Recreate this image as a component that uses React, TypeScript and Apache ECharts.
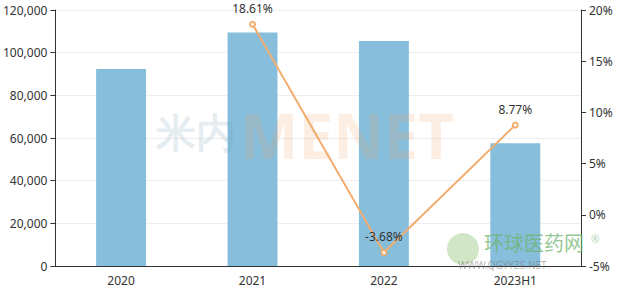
import React, { useEffect, useRef } from "react";
import * as echarts from "echarts";

const categories = ["2020", "2021", "2022", "2023H1"];
const salesValues = [92300, 109500, 105470, 57500];
const growthValues: (number | null)[] = [null, 18.61, -3.68, 8.77];

export default function App() {
  const ref = useRef<HTMLDivElement>(null);
  useEffect(() => {
    document.body.style.margin = "0";
    const chart = echarts.init(ref.current!, undefined, { renderer: "svg" });
    const font = "'Noto Sans', 'Open Sans', sans-serif";
    chart.setOption({
      animation: false,
      textStyle: { fontFamily: font },
      grid: { left: 55, right: 37, top: 10, bottom: 23 },
      graphic: [
        {
          type: "text",
          left: 156,
          top: 111,
          z: 100,
          style: { text: "米内", fontSize: 40, fontWeight: "bold", fill: "rgba(120,160,185,0.2)", fontFamily: font },
        },
        {
          type: "text",
          left: 240,
          top: 104,
          z: 100,
          style: { text: "MENET", fontSize: 62, fontWeight: "bold", fill: "rgba(245,160,100,0.18)", fontFamily: font },
        },
        {
          type: "circle",
          shape: { cx: 463, cy: 249, r: 16 },
          z: 100,
          style: { fill: "rgba(150,200,130,0.45)" },
        },
        {
          type: "text",
          left: 484,
          top: 232,
          z: 100,
          style: { text: "环球医药网", fontSize: 20, fill: "rgba(110,180,110,0.75)", fontFamily: "'Noto Sans CJK SC', sans-serif" },
        },
        {
          type: "text",
          left: 591,
          top: 234,
          z: 100,
          style: { text: "®", fontSize: 10, fill: "rgba(110,180,110,0.6)", fontFamily: font },
        },
        {
          type: "text",
          left: 458,
          top: 260,
          z: 100,
          style: { text: "WWW.QGYYZS.NET", fontSize: 10, fill: "rgba(120,120,120,0.55)", fontFamily: font },
        },
      ],
      xAxis: {
        type: "category",
        data: categories,
        axisLine: { lineStyle: { color: "#333" } },
        axisTick: { lineStyle: { color: "#333" } },
        axisLabel: { color: "#333", fontSize: 12, margin: 8 },
      },
      yAxis: [
        {
          type: "value",
          min: 0,
          max: 120000,
          interval: 20000,
          axisLine: { show: true, lineStyle: { color: "#333" } },
          axisTick: { show: true, lineStyle: { color: "#333" } },
          axisLabel: {
            color: "#333",
            fontSize: 12,
            formatter: (v: number) => v.toLocaleString("en-US"),
          },
          splitLine: { lineStyle: { color: "#eeeeee" } },
        },
        {
          type: "value",
          min: -5,
          max: 20,
          interval: 5,
          axisLine: { show: true, lineStyle: { color: "#333" } },
          axisTick: { show: true, lineStyle: { color: "#333" } },
          axisLabel: { color: "#333", fontSize: 12, formatter: "{value}%" },
          splitLine: { show: false },
        },
      ],
      series: [
        {
          type: "bar",
          data: salesValues,
          barWidth: "38%",
          itemStyle: { color: "#86bedc" },
          z: 2,
        },
        {
          type: "line",
          yAxisIndex: 1,
          data: growthValues,
          symbol: "emptyCircle",
          symbolSize: 5,
          lineStyle: { color: "#f2ad6f", width: 2 },
          itemStyle: { color: "#f2ad6f", borderWidth: 1 },
          label: {
            show: true,
            position: "top",
            distance: 6,
            color: "#333",
            fontSize: 12,
            formatter: "{c}%",
          },
          z: 5,
        },
      ],
    });
    return () => chart.dispose();
  }, []);
  return <div ref={ref} style={{ width: 618, height: 289 }} />;
}
